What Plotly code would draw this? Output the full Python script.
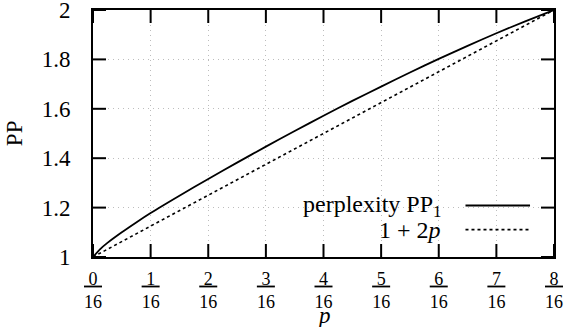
import plotly.graph_objects as go

# Data
p_vals = [0, 1/128, 1/64, 1/32, 3/64, 1/16, 3/32, 1/8, 5/32, 3/16, 7/32, 1/4,
          9/32, 5/16, 11/32, 3/8, 13/32, 7/16, 15/32, 1/2]
pp1_vals = [1.0, 1.032, 1.057, 1.100, 1.140, 1.178, 1.248, 1.316, 1.382, 1.447, 1.510, 1.572,
            1.632, 1.690, 1.747, 1.802, 1.855, 1.906, 1.954, 2.0]
lin_p = [0, 0.5]
lin_vals = [1.0, 2.0]

x_tick_nums = list(range(0, 9))
x_tick_vals = [k / 16 for k in x_tick_nums]
x_tick_text = [f"<u>\u2005{k}\u2005</u><br>16" for k in x_tick_nums]
y_tick_vals = [1.0, 1.2, 1.4, 1.6, 1.8, 2.0]
y_tick_text = ["1", "1.2", "1.4", "1.6", "1.8", "2"]
x_range = [0, 0.5]
y_range = [1, 2]

FONT = '"Liberation Serif", "Times New Roman", serif'
W, H = 566, 327
ML, MR, MT, MB = 93, 12, 10, 70
TICK_PX = 13
# tick length expressed in data units of each axis
tick_dx = TICK_PX / (W - ML - MR) * (x_range[1] - x_range[0])
tick_dy = TICK_PX / (H - MT - MB) * (y_range[1] - y_range[0])

fig = go.Figure()
fig.add_trace(go.Scatter(x=p_vals, y=pp1_vals, mode="lines",
                         line=dict(color="black", width=1.8, shape="spline", smoothing=0.6),
                         showlegend=False, hoverinfo="skip"))
fig.add_trace(go.Scatter(x=lin_p, y=lin_vals, mode="lines",
                         line=dict(color="black", width=1.6, dash="dot"),
                         showlegend=False, hoverinfo="skip"))

main_common = dict(showline=True, linecolor="black", linewidth=2, mirror=True,
                   ticks="", showgrid=True, gridcolor="#bdbdbd", gridwidth=1,
                   griddash="1px,4px", zeroline=False, ticklabeloverflow="allow")

fig.update_layout(
    xaxis=dict(range=x_range, tickmode="array", tickvals=x_tick_vals, ticktext=x_tick_text,
               tickfont=dict(family=FONT, size=18, color="black"), ticklabelstandoff=4,
               **main_common),
    yaxis=dict(range=y_range, tickmode="array", tickvals=y_tick_vals, ticktext=y_tick_text,
               tickfont=dict(family=FONT, size=23, color="black"), ticklabelstandoff=16,
               **main_common),
)

# opaque key box (hides grid behind the key, as in the original)
fig.add_shape(type="rect", xref="paper", yref="paper", x0=0.427, x1=0.968,
              y0=0.065, y1=0.261, fillcolor="white", line=dict(width=0), layer="between")

# inward tick marks on all four sides, built from the tick value lists
tx, ty = [], []
for v in x_tick_vals:
    tx += [v, v, None, v, v, None]
    ty += [y_range[0], y_range[0] + tick_dy, None, y_range[1] - tick_dy, y_range[1], None]
for v in y_tick_vals:
    tx += [x_range[0], x_range[0] + tick_dx, None, x_range[1] - tick_dx, x_range[1], None]
    ty += [v, v, None, v, v, None]
fig.add_trace(go.Scatter(x=tx, y=ty, mode="lines", line=dict(color="black", width=2),
                         connectgaps=False, cliponaxis=False,
                         showlegend=False, hoverinfo="skip"))

# key samples
fig.add_shape(type="line", xref="paper", yref="paper", x0=0.808, x1=0.948,
              y0=0.2085, y1=0.2085, line=dict(color="black", width=1.8), layer="above")
fig.add_shape(type="line", xref="paper", yref="paper", x0=0.808, x1=0.948,
              y0=0.111, y1=0.111, line=dict(color="black", width=1.6, dash="dot"), layer="above")

fig.add_annotation(xref="paper", yref="paper", x=0.759, y=0.206, xanchor="right",
                   yanchor="middle", showarrow=False, text="perplexity PP<sub>1</sub>",
                   font=dict(family=FONT, size=24, color="black"))
fig.add_annotation(xref="paper", yref="paper", x=0.759, y=0.111, xanchor="right",
                   yanchor="middle", showarrow=False, text="1 + 2<i>p</i>",
                   font=dict(family=FONT, size=24, color="black"))

# axis titles
fig.add_annotation(xref="paper", yref="paper", x=-0.17, y=0.5, xanchor="center",
                   yanchor="middle", showarrow=False, text="PP", textangle=-90,
                   font=dict(family=FONT, size=23, color="black"))
fig.add_annotation(xref="paper", yref="paper", x=0.5, y=-0.235, xanchor="center",
                   yanchor="middle", showarrow=False, text="<i>p</i>",
                   font=dict(family=FONT, size=23, color="black"))

fig.update_layout(width=W, height=H, margin=dict(l=ML, r=MR, t=MT, b=MB, autoexpand=False),
                  plot_bgcolor="white", paper_bgcolor="white",
                  font=dict(family=FONT, color="black"))

fig.write_html("out.html", config={"displayModeBar": False},
               post_script="document.body.style.margin='0';")
